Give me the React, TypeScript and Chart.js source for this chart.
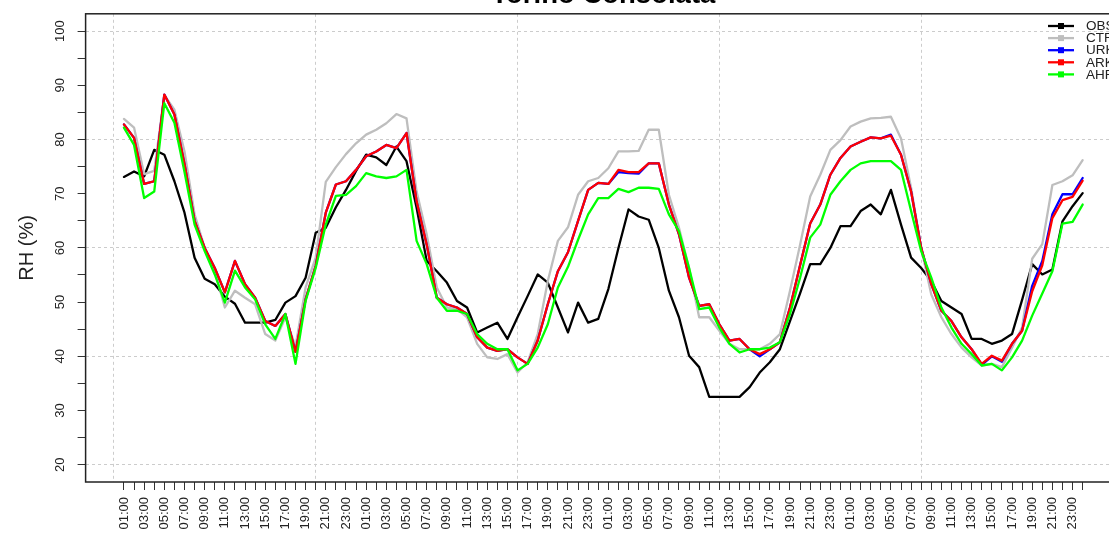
import React, { useEffect, useRef } from "react";
import { Chart, registerables } from "chart.js";

Chart.register(...registerables);

const TITLE = "Torino Consolata";
const Y_TITLE = "RH (%)";

const DAY_LABELS = [
  "01:00", "02:00", "03:00", "04:00", "05:00", "06:00", "07:00", "08:00",
  "09:00", "10:00", "11:00", "12:00", "13:00", "14:00", "15:00", "16:00",
  "17:00", "18:00", "19:00", "20:00", "21:00", "22:00", "23:00", "00:00",
];
const TIME_LABELS = [...DAY_LABELS, ...DAY_LABELS, ...DAY_LABELS, ...DAY_LABELS];
const HOURS = TIME_LABELS.map((_, k) => k + 1);

const OBS = [
  73.1, 74.1, 73.2, 78.1, 77.2, 72.3, 66.5, 58.2, 54.3, 53.3, 51.0, 49.7,
  46.2, 46.2, 46.2, 46.7, 49.9, 51.1, 54.5, 62.8, 63.7, 67.5, 70.7, 74.2,
  77.2, 76.7, 75.3, 78.7, 76.0, 67.4, 57.6, 55.7, 53.6, 50.2, 49.0, 44.4,
  45.3, 46.2, 43.2, 47.2, 51.1, 55.1, 53.6, 49.0, 44.4, 49.9, 46.2, 46.9,
  52.4, 60.0, 67.1, 65.8, 65.2, 60.0, 52.1, 47.2, 40.1, 38.0, 32.5, 32.5,
  32.5, 32.5, 34.3, 37.0, 38.9, 41.3, 46.5, 51.6, 57.0, 57.0, 60.0, 64.0,
  64.0, 66.8, 68.0, 66.2, 70.7, 64.3, 58.2, 56.3, 53.9, 50.2, 49.0, 47.8,
  43.2, 43.2, 42.3, 42.9, 44.1, 50.4, 57.0, 55.1, 56.0, 64.9, 67.7, 70.1,
];
const CTR = [
  83.8, 82.2, 73.6, 74.2, 88.2, 85.5, 77.8, 66.2, 60.0, 55.7, 49.0, 52.1,
  50.8, 49.6, 44.1, 42.9, 47.2, 41.8, 52.7, 58.2, 72.2, 74.9, 77.3, 79.3,
  80.9, 81.8, 83.0, 84.7, 83.9, 70.4, 62.5, 52.7, 49.0, 48.7, 47.2, 42.3,
  39.8, 39.5, 40.4, 37.0, 38.9, 44.1, 53.9, 61.3, 63.8, 69.8, 72.3, 72.9,
  74.7, 77.8, 77.8, 77.9, 81.8, 81.8, 69.8, 63.7, 56.3, 47.2, 47.2, 44.7,
  42.3, 41.3, 41.3, 41.3, 42.3, 44.1, 52.1, 60.6, 69.5, 73.5, 78.1, 79.9,
  82.4, 83.3, 83.9, 84.0, 84.2, 80.2, 71.1, 60.0, 51.4, 47.2, 44.1, 41.6,
  39.8, 38.3, 38.6, 38.0, 41.6, 45.3, 58.0, 60.7, 71.6, 72.3, 73.4, 76.2,
];
const URK = [
  82.8, 80.3, 71.8, 72.3, 88.3, 84.6, 75.5, 65.0, 60.0, 56.3, 51.8, 57.6,
  53.3, 50.8, 46.5, 45.6, 47.8, 40.8, 50.5, 56.7, 66.5, 71.7, 72.3, 74.4,
  76.9, 77.8, 79.0, 78.4, 81.2, 68.6, 60.6, 50.8, 49.6, 49.0, 47.8, 43.5,
  41.6, 41.0, 41.3, 39.8, 38.6, 42.9, 49.6, 55.7, 59.2, 65.0, 70.7, 72.0,
  71.8, 74.0, 73.8, 73.7, 75.6, 75.6, 68.0, 62.5, 54.5, 49.3, 49.6, 45.9,
  42.9, 43.2, 41.3, 40.0, 41.3, 42.6, 49.0, 56.8, 64.5, 68.0, 73.5, 76.6,
  78.7, 79.6, 80.4, 80.2, 80.9, 77.2, 70.4, 60.0, 53.3, 48.4, 46.5, 43.5,
  41.3, 38.4, 40.0, 39.0, 42.3, 44.7, 53.0, 57.6, 66.2, 69.9, 69.9, 72.9,
];
const ARK = [
  82.8, 80.3, 71.8, 72.3, 88.3, 84.6, 75.5, 65.0, 60.0, 56.3, 51.8, 57.6,
  53.3, 50.8, 46.5, 45.6, 47.8, 40.8, 50.5, 56.7, 66.5, 71.7, 72.3, 74.4,
  76.9, 77.8, 79.0, 78.4, 81.2, 68.6, 60.6, 50.8, 49.6, 49.0, 47.8, 43.5,
  41.6, 41.0, 41.3, 39.8, 38.6, 42.9, 49.6, 55.7, 59.2, 65.0, 70.7, 72.0,
  71.8, 74.4, 74.0, 74.0, 75.6, 75.6, 68.0, 62.5, 54.5, 49.3, 49.6, 45.9,
  42.9, 43.2, 41.3, 40.4, 41.3, 42.6, 49.0, 56.8, 64.5, 68.0, 73.5, 76.6,
  78.7, 79.6, 80.4, 80.2, 80.7, 77.2, 70.4, 60.0, 53.3, 48.4, 46.5, 43.5,
  41.3, 38.6, 40.1, 39.2, 42.3, 44.7, 52.0, 56.8, 65.5, 68.8, 69.4, 72.4,
];
const AHR = [
  82.2, 79.0, 69.2, 70.4, 86.7, 83.1, 74.0, 64.3, 59.4, 55.1, 49.9, 55.8,
  52.7, 50.5, 45.9, 43.2, 47.8, 38.6, 50.2, 56.3, 64.3, 69.6, 69.8, 71.4,
  73.8, 73.2, 72.9, 73.2, 74.4, 61.3, 57.0, 50.8, 48.4, 48.4, 47.8, 44.1,
  42.3, 41.3, 41.3, 37.4, 38.6, 41.6, 45.9, 52.7, 56.5, 61.5, 66.2, 69.2,
  69.2, 70.9, 70.3, 71.1, 71.1, 70.9, 66.2, 63.1, 56.3, 48.7, 49.0, 45.3,
  42.3, 40.7, 41.3, 41.3, 41.6, 42.6, 47.8, 54.5, 61.9, 64.3, 69.8, 72.3,
  74.4, 75.6, 76.0, 76.0, 76.0, 74.4, 66.8, 59.4, 54.5, 49.0, 45.3, 42.3,
  40.4, 38.3, 38.6, 37.4, 39.8, 42.9, 47.5, 51.6, 55.7, 64.5, 64.8, 68.0,
];

const SERIES_NAMES = ["OBS", "CTR", "URK", "ARK", "AHR"];
const SERIES_COLORS = ["#000000", "#BEBEBE", "#0000FF", "#FF0000", "#00FF00"];

const Y_TICKS = [20, 25, 30, 35, 40, 45, 50, 55, 60, 65, 70, 75, 80, 85, 90, 95, 100];
const Y_LABELED = [20, 30, 40, 50, 60, 70, 80, 90, 100];
const Y_GRID = [20, 40, 60, 80, 100];
const X_GRID = [0, 20, 40, 60, 80];
const X_MIN = -2.8;
const X_MAX = 99.8;
const Y_MIN = 16.8;
const Y_MAX = 103.2;

const FONT = "'Liberation Sans', Arial, Helvetica, sans-serif";
const GRID_COLOR = "#cccccc";
const AXIS_COLOR = "#333333";
const TEXT_COLOR = "#222222";

export default function App() {
  const ref = useRef<HTMLCanvasElement>(null);

  useEffect(() => {
    const canvas = ref.current;
    if (!canvas) return;
    const all = [OBS, CTR, URK, ARK, AHR];

    const datasets = all.map((vals, s) => ({
      label: SERIES_NAMES[s],
      data: vals.map((v, k) => ({ x: HOURS[k], y: v })),
      borderColor: SERIES_COLORS[s],
      backgroundColor: SERIES_COLORS[s],
      borderWidth: 2.3,
      pointRadius: 0,
      pointHoverRadius: 0,
      tension: 0,
      fill: false,
      order: all.length - s,
      borderJoinStyle: "round" as const,
      borderCapStyle: "round" as const,
    }));

    const decor = {
      id: "decor",
      afterDraw(chart: any) {
        const { ctx, chartArea: a } = chart;
        ctx.save();
        // plot box
        ctx.strokeStyle = TEXT_COLOR;
        ctx.lineWidth = 1.5;
        ctx.strokeRect(a.left, a.top, a.right - a.left, a.bottom - a.top);
        // title
        ctx.fillStyle = "#000";
        ctx.font = `bold 27.5px ${FONT}`;
        ctx.textAlign = "center";
        ctx.textBaseline = "alphabetic";
        ctx.fillText(TITLE, (a.left + a.right) / 2, 3);
        // y title
        ctx.save();
        ctx.translate(27, (a.top + a.bottom) / 2);
        ctx.rotate(-Math.PI / 2);
        ctx.font = `20px ${FONT}`;
        ctx.fillStyle = TEXT_COLOR;
        ctx.textAlign = "center";
        ctx.textBaseline = "middle";
        ctx.fillText(Y_TITLE, 0, 0);
        ctx.restore();
        // legend
        ctx.font = `13.5px ${FONT}`;
        ctx.textAlign = "left";
        ctx.textBaseline = "middle";
        SERIES_NAMES.forEach((name, r) => {
          const y = 26 + r * 12.1;
          ctx.strokeStyle = SERIES_COLORS[r];
          ctx.lineWidth = 2.3;
          ctx.beginPath();
          ctx.moveTo(1048, y);
          ctx.lineTo(1074, y);
          ctx.stroke();
          ctx.fillStyle = SERIES_COLORS[r];
          ctx.fillRect(1058, y - 3, 6, 6);
          ctx.fillStyle = TEXT_COLOR;
          ctx.fillText(name, 1086, y + 0.5);
        });
        ctx.restore();
      },
    };

    const chart = new Chart(canvas, {
      type: "line",
      data: { datasets },
      options: {
        responsive: false,
        animation: false,
        devicePixelRatio: 1,
        layout: { padding: { top: 11.5, right: 4, left: 0, bottom: 0 } },
        plugins: {
          legend: { display: false },
          tooltip: { enabled: false },
          title: { display: false },
        },
        scales: {
          x: {
            type: "linear",
            min: X_MIN,
            max: X_MAX,
            afterBuildTicks: (s: any) => {
              s.ticks = [0, ...HOURS].map((v) => ({ value: v }));
            },
            afterFit: (s: any) => {
              s.height = 52;
            },
            ticks: {
              autoSkip: false,
              minRotation: 90,
              maxRotation: 90,
              padding: 7,
              color: TEXT_COLOR,
              font: { size: 13, family: FONT },
              callback: (v: any) =>
                v >= 1 && v % 2 === 1 ? TIME_LABELS[v - 1] : "",
            },
            grid: {
              color: (c: any) =>
                c.tick && X_GRID.includes(c.tick.value) ? GRID_COLOR : "rgba(0,0,0,0)",
              tickColor: (c: any) =>
                c.tick && c.tick.value >= 1 ? AXIS_COLOR : "rgba(0,0,0,0)",
              tickLength: 8,
              lineWidth: 1,
              tickWidth: 1,
            },
            border: { display: false, dash: [3, 3] },
          },
          y: {
            type: "linear",
            min: Y_MIN,
            max: Y_MAX,
            afterBuildTicks: (s: any) => {
              s.ticks = Y_TICKS.map((v) => ({ value: v }));
            },
            afterFit: (s: any) => {
              s.width = 85.6;
            },
            ticks: {
              minRotation: 90,
              maxRotation: 90,
              crossAlign: "center",
              padding: 6,
              color: TEXT_COLOR,
              font: { size: 13, family: FONT },
              callback: (v: any) => (Y_LABELED.includes(v) ? String(v) : ""),
            },
            grid: {
              color: (c: any) =>
                c.tick && Y_GRID.includes(c.tick.value) ? GRID_COLOR : "rgba(0,0,0,0)",
              tickColor: AXIS_COLOR,
              tickLength: 8,
              lineWidth: 1,
              tickWidth: 1,
            },
            border: { display: false, dash: [3, 3] },
          },
        },
      },
      plugins: [decor],
    } as any);

    return () => chart.destroy();
  }, []);

  return (
    <div
      style={{
        position: "fixed",
        left: 0,
        top: 0,
        width: 1109,
        height: 534,
        overflow: "hidden",
        background: "#fff",
      }}
    >
      <canvas ref={ref} width={1125} height={534} style={{ display: "block" }} />
    </div>
  );
}
